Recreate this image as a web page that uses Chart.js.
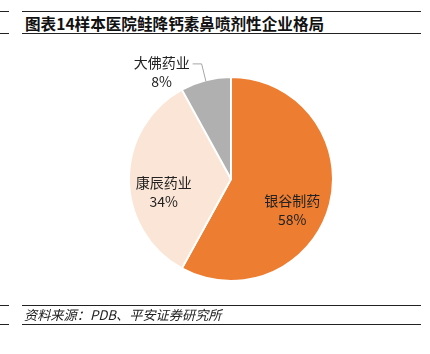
<!DOCTYPE html>
<html>
<head>
<meta charset="utf-8">
<script src="https://cdn.jsdelivr.net/npm/chart.js@4"></script>
<style>
  body { margin: 0; background: #fff; font-family: "Noto Sans CJK SC", sans-serif; }
  #wrap { position: relative; width: 430px; height: 354px; overflow: hidden; }
  .ln { position: absolute; height: 0; border-top: 1.5px solid #222; }
  #titulo { position: absolute; left: 25px; top: 13px; font-size: 15.6px; font-weight: bold; color: #111; line-height: 20px; }
  #fonte { position: absolute; left: 24px; top: 306px; font-size: 13.2px; font-style: italic; color: #222; line-height: 18px; }
  canvas { position: absolute; left: 0; top: 0; }
</style>
</head>
<body>
<div id="wrap">
  <div class="ln" style="left:0;width:9px;top:11px"></div>
  <div class="ln" style="left:22px;width:399px;top:11px"></div>
  <div class="ln" style="left:0;width:9px;top:33px"></div>
  <div class="ln" style="left:22px;width:399px;top:33px"></div>
  <div id="titulo">图表14样本医院鲑降钙素鼻喷剂性企业格局</div>
  <canvas id="meuGrafico" width="430" height="354"></canvas>
  <div class="ln" style="left:0;width:9px;top:305px"></div>
  <div class="ln" style="left:22px;width:399px;top:305px"></div>
  <div class="ln" style="left:0;width:9px;top:324px"></div>
  <div class="ln" style="left:22px;width:399px;top:324px"></div>
  <div id="fonte">资料来源：PDB、平安证券研究所</div>
</div>
<script>
const empresas = ['银谷制药', '康辰药业', '大佛药业'];
const participacao = [58, 34, 8];
const cores = ['#ED7D31', '#FBE5D6', '#B0B0B0'];

// posicao dos rotulos relativa ao centro, em fracoes do raio
const posRotulo = [[0.60, 0.31], [-0.66, 0.13], [-0.68, -1.05]];

const rotulos = {
    id: 'rotulos',
    afterDatasetsDraw(chart) {
        const ctx = chart.ctx;
        const arcs = chart.getDatasetMeta(0).data;
        ctx.save();
        ctx.font = '14px "Noto Sans CJK SC", sans-serif';
        ctx.fillStyle = '#222';
        ctx.textAlign = 'center';
        ctx.textBaseline = 'middle';
        arcs.forEach((a, i) => {
            const r = a.outerRadius;
            const x = a.x + posRotulo[i][0] * r;
            const y = a.y + posRotulo[i][1] * r;
            ctx.fillText(empresas[i], x, y - 9.5);
            ctx.fillText(participacao[i] + '%', x, y + 9.5);
        });
        // linha guia do menor pedaco
        const a = arcs[2];
        const meio = (a.startAngle + a.endAngle) / 2;
        const r = a.outerRadius;
        const px = a.x + Math.cos(meio) * r * 0.99;
        const py = a.y + Math.sin(meio) * r * 0.99;
        const lx = a.x + posRotulo[2][0] * r;
        const ly = a.y + posRotulo[2][1] * r;
        ctx.strokeStyle = '#A6A6A6';
        ctx.lineWidth = 1;
        ctx.beginPath();
        ctx.moveTo(lx + 31, ly - 8);
        ctx.lineTo(lx + 40, ly - 8);
        ctx.lineTo(px, py);
        ctx.stroke();
        ctx.restore();
    }
};

new Chart(document.getElementById('meuGrafico').getContext('2d'), {
    type: 'pie',
    data: {
        labels: empresas,
        datasets: [{
            data: participacao,
            backgroundColor: cores,
            borderColor: '#fff',
            borderWidth: 2
        }]
    },
    options: {
        responsive: false,
        animation: false,
        layout: { padding: { left: 128, right: 96, top: 76, bottom: 72 } },
        plugins: { legend: { display: false }, tooltip: { enabled: false } }
    },
    plugins: [rotulos]
});
</script>
</body>
</html>
